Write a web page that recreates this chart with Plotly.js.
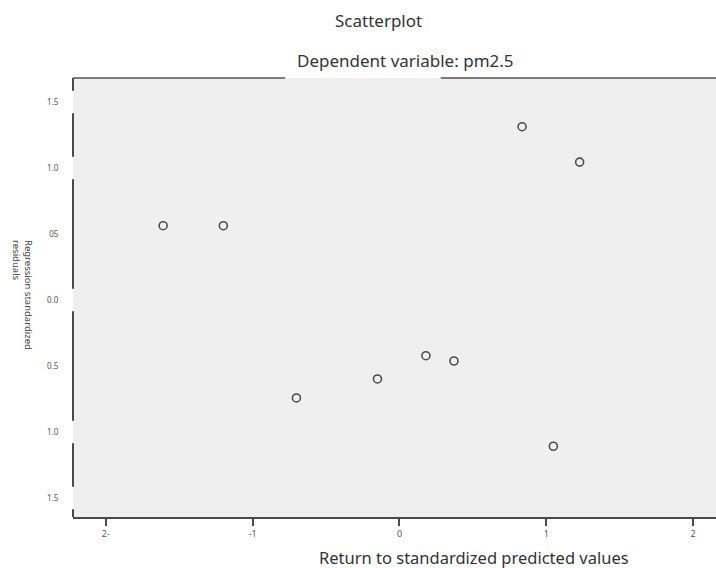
<!DOCTYPE html>
<html>
<head>
<meta charset="utf-8">
<script src="https://cdn.plot.ly/plotly-3.0.1.min.js"></script>
<style>html,body{margin:0;padding:0;background:#fff;}#chart{width:716px;height:568px;}</style>
</head>
<body>
<div id="chart"></div>
<script>
// Data
var predicted = [-1.61, -1.20, 0.835, 1.227, 0.180, 0.371, -0.150, -0.702, 1.048];
var residuals = [0.563, 0.563, 1.313, 1.045, -0.422, -0.462, -0.598, -0.742, -1.108];
var xTickVals = [-2, -1, 0, 1, 2];
var xTickText = ["2-", "-1", "0", "1", "2"];
var yTickVals = [1.5, 1.0, 0.5, 0.0, -0.5, -1.0, -1.5];
var yTickText = ["1.5", "1.0", "05", "0.0", "0.5", "1.0", "1.5"];
var gapTicks = [1.5, 1.0, 0.0, -1.0, -1.5];

var yRange = [-1.644, 1.682];
var xRange = [-2.224, 2.156];

// left axis line drawn in segments with gaps behind some labels
var shapes = [];
var gapHalf = 0.085;
var edges = [yRange[1]];
gapTicks.forEach(function(t){ edges.push(t + gapHalf); edges.push(t - gapHalf); });
edges.push(yRange[0]);
for (var i = 0; i < edges.length; i += 2) {
  shapes.push({type:'line', xref:'paper', yref:'y', x0:0, x1:0, y0:edges[i], y1:edges[i+1],
    line:{color:'#4a4a4a', width:2}});
}
// top frame line, interrupted behind the subtitle
shapes.push({type:'line', xref:'paper', yref:'paper', x0:0, x1:0.33, y0:1, y1:1, line:{color:'#555', width:1.5}});
shapes.push({type:'line', xref:'paper', yref:'paper', x0:0.572, x1:1, y0:1, y1:1, line:{color:'#555', width:1.5}});

var trace = {
  x: predicted, y: residuals, type:'scatter', mode:'markers',
  marker:{symbol:'circle-open', size:8, color:'#4d4d4d', line:{width:1.6, color:'#4d4d4d'}},
  hoverinfo:'x+y'
};

var font = "'Noto Sans', 'Open Sans', sans-serif";
var layout = {
  width:716, height:568,
  margin:{l:73, r:0, t:78, b:51},
  paper_bgcolor:'#ffffff', plot_bgcolor:'#efefef',
  showlegend:false,
  font:{family:font, color:'#333'},
  xaxis:{range:xRange, tickvals:xTickVals, ticktext:xTickText, showgrid:false, zeroline:false,
    showline:true, linecolor:'#4a4a4a', linewidth:2, ticks:'outside', ticklen:7, tickwidth:2, tickcolor:'#4a4a4a',
    tickfont:{size:9, color:'#555', family:font}},
  yaxis:{range:yRange, tickvals:yTickVals, ticktext:yTickText, showgrid:false, zeroline:false,
    showline:false, ticks:'outside', ticklen:12, tickcolor:'rgba(0,0,0,0)',
    tickfont:{size:8, color:'#555', family:font}},
  shapes: shapes,
  annotations:[
    {text:'Scatterplot', xref:'paper', yref:'paper', x:(378-73)/643, y:1, yanchor:'middle', yshift:58, showarrow:false,
      font:{size:17, color:'#333', family:font}},
    {text:'Dependent variable: pm2.5', xref:'paper', yref:'paper', x:(405-73)/643, y:1, yanchor:'middle', yshift:18, showarrow:false,
      font:{size:17, color:'#333', family:font}},
    {text:'Return to standardized predicted values', xref:'paper', yref:'paper', x:(474-73)/643, y:0, yanchor:'middle', yshift:-40, showarrow:false,
      font:{size:16.5, color:'#333', family:font}},
    {text:'Regression standardized<br>residuals', xref:'paper', yref:'paper', x:0, xanchor:'center', xshift:-50, y:(517-295)/439, yanchor:'middle', align:'left', showarrow:false,
      textangle:90, font:{size:9.5, color:'#444', family:font}}
  ]
};
Plotly.newPlot('chart', [trace], layout, {displayModeBar:false, staticPlot:true});
</script>
</body>
</html>
